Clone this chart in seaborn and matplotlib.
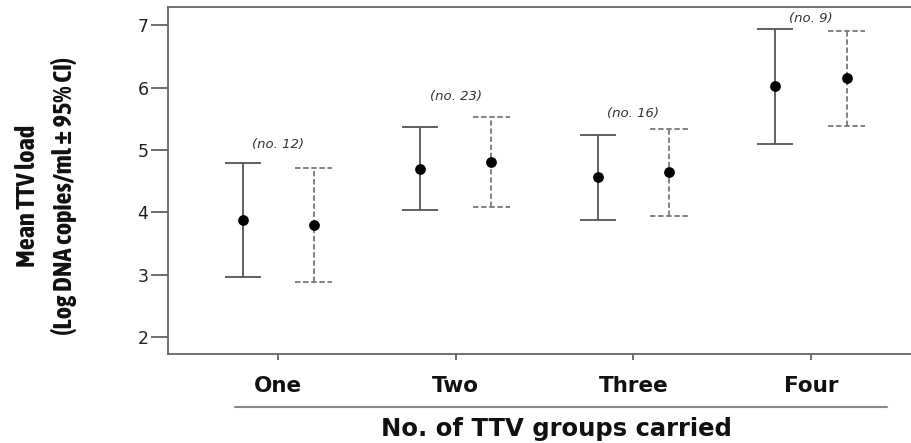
import numpy as np
import pandas as pd
import seaborn as sns
import matplotlib
matplotlib.use("Agg")
import matplotlib.pyplot as plt
from matplotlib.lines import Line2D
from matplotlib import font_manager

# ---- data ----
groups = ["One", "Two", "Three", "Four"]
counts = ["(no. 12)", "(no. 23)", "(no. 16)", "(no. 9)"]
count_y = [5.08, 5.85, 5.59, 7.10]

solid_mean = [3.87, 4.70, 4.56, 6.02]
solid_low = [2.96, 4.04, 3.875, 5.10]
solid_high = [4.79, 5.37, 5.24, 6.94]

dash_mean = [3.80, 4.80, 4.64, 6.15]
dash_low = [2.89, 4.08, 3.94, 5.38]
dash_high = [4.71, 5.52, 5.33, 6.91]

y_ticks = [2, 3, 4, 5, 6, 7]

sns.set_theme(style="white")
plt.rcParams["font.family"] = ["DejaVu Sans"]

# look for a condensed / narrow bold face for the y label
narrow_fam = None
for f in font_manager.fontManager.ttflist:
    if ("Narrow" in f.name or "Condensed" in f.name) and f.weight in (700, "bold"):
        narrow_fam = f.name
        break
if narrow_fam is None:
    for f in font_manager.fontManager.ttflist:
        if "Narrow" in f.name or "Condensed" in f.name:
            narrow_fam = f.name
            break

fig = plt.figure(figsize=(9.12, 4.43), dpi=100)
ax = fig.add_axes([168 / 912, 1 - 354 / 443, 1 - 168 / 912 + 0.01, (354 - 7) / 443])

df = pd.DataFrame({
    "group": groups * 2,
    "series": ["A"] * 4 + ["B"] * 4,
    "mean": solid_mean + dash_mean,
})
df["pos"] = df["group"].map({g: i for i, g in enumerate(groups)})
offset = 0.2
df["xpos"] = df["pos"] + np.where(df["series"] == "A", -offset, offset)

# error bars
xs_a = np.arange(len(groups)) - offset
xs_b = np.arange(len(groups)) + offset
sm = np.array(solid_mean); dm = np.array(dash_mean)
ax.errorbar(xs_a, sm, yerr=[sm - np.array(solid_low), np.array(solid_high) - sm],
            fmt="none", ecolor="#555555", elinewidth=1.3, capsize=13, capthick=1.3, zorder=2)
eb = ax.errorbar(xs_b, dm, yerr=[dm - np.array(dash_low), np.array(dash_high) - dm],
                 fmt="none", ecolor="#777777", elinewidth=1.3, capsize=0, zorder=2)
for c in eb.lines[2]:
    c.set_linestyle((0, (3, 1.5)))
for x, lo, hi in zip(xs_b, dash_low, dash_high):
    for yv in (lo, hi):
        ax.plot([x - 0.105, x + 0.105], [yv, yv], color="#777777", lw=1.3,
                linestyle=(0, (3, 1.5)), zorder=2)

sns.scatterplot(data=df, x="xpos", y="mean", color="black", s=60, edgecolor="black",
                linewidth=0, ax=ax, zorder=3, legend=False)

for i, (t, yv) in enumerate(zip(counts, count_y)):
    ax.text(i, yv, t, ha="center", va="center", fontsize=9.5, style="italic", color="#333333")

ax.set_xlim(-0.62, 3.62)
ax.set_ylim(1.73, 7.29)
ax.set_yticks(y_ticks)
ax.set_yticklabels([str(v) for v in y_ticks], fontsize=12.5, color="#222222")
ax.set_xticks(range(len(groups)))
ax.set_xticklabels(groups, fontsize=15.5, fontweight="bold", color="#111111")
ax.tick_params(axis="y", left=True, length=12, width=1.2, color="#555555", pad=2)
ax.tick_params(axis="x", bottom=True, length=4, width=1.2, color="#555555", pad=12)
ax.set_xlabel("")
ax.set_ylabel("")
for s in ["left", "bottom", "top"]:
    ax.spines[s].set_color("#666666")
    ax.spines[s].set_linewidth(1.3)
ax.spines["right"].set_visible(False)

fig.add_artist(Line2D([235 / 912, 887 / 912], [1 - 407 / 443, 1 - 407 / 443],
                      color="#888888", lw=1.5))
fig.text(556 / 912, 1 - 429 / 443, "No. of TTV groups carried", ha="center", va="center",
         fontsize=17.5, fontweight="bold", color="#111111")

ylab = "Mean TTV load\n(Log DNA copies/ml \u00b1 95% CI)"
if narrow_fam is not None:
    fig.text(46 / 912, 1 - 196 / 443, ylab, ha="center", va="center", rotation=90,
             fontsize=19, fontweight="bold", family=[narrow_fam, "DejaVu Sans"],
             linespacing=1.5, color="#111111")
else:
    fig.text(46 / 912, 1 - 196 / 443, ylab, ha="center", va="center", rotation=90,
             fontsize=12, fontweight="bold", family=["DejaVu Sans"],
             linespacing=2.1, color="#111111")

fig.savefig("out.png", dpi=100)
